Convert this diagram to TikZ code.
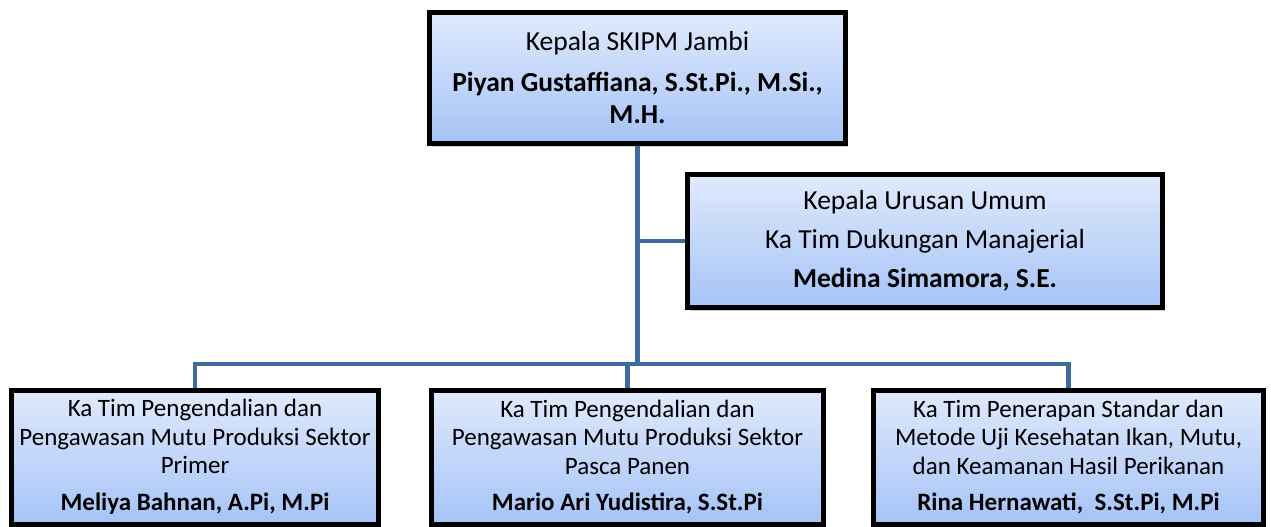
\documentclass[tikz,border=0pt]{standalone}
\usepackage{fontspec}
\setmainfont{Carlito}
\usepackage{tikz}
\usetikzlibrary{shadows}
\definecolor{boxtop}{RGB}{224,234,252}
\definecolor{boxbottom}{RGB}{165,195,247}
\definecolor{linkblue}{RGB}{62,106,158}

\begin{document}
\begin{tikzpicture}[x=1pt, y=-1pt,
    box/.style={draw=black, line width=5pt, rectangle, align=center, inner sep=0pt,
        top color=boxtop, bottom color=boxbottom,
        drop shadow={shadow xshift=2.5pt, shadow yshift=-3pt, fill=black!40, opacity=0.5}},
    bigtext/.style={font=\fontsize{27.5}{32}\selectfont},
    smalltext/.style={font=\fontsize{25}{28.5}\selectfont},
    link/.style={draw=linkblue, line width=4.5pt}]
        \useasboundingbox (0,0) rectangle (1271,527);
        % nodes
        \node[box, bigtext, minimum width=416pt, minimum height=131pt] (kepala) at (637.5,78)
            {Kepala SKIPM Jambi\\[9pt]\textbf{Piyan Gustaffiana, S.St.Pi., M.Si.,}\\\textbf{M.H.}};
        \node[box, bigtext, minimum width=475pt, minimum height=133pt] (urusan) at (925,241)
            {Kepala Urusan Umum\\[7pt]Ka Tim Dukungan Manajerial\\[7pt]\textbf{Medina Simamora, S.E.}};
        \node[box, smalltext, minimum width=367pt, minimum height=134pt] (primer) at (195,457)
            {Ka Tim Pengendalian dan\\Pengawasan Mutu Produksi Sektor\\Primer\\[8pt]\textbf{Meliya Bahnan, A.Pi, M.Pi}};
        \node[box, smalltext, minimum width=392pt, minimum height=134pt] (pasca) at (627.5,457)
            {Ka Tim Pengendalian dan\\Pengawasan Mutu Produksi Sektor\\Pasca Panen\\[8pt]\textbf{Mario Ari Yudistira, S.St.Pi}};
        \node[box, smalltext, minimum width=390pt, minimum height=134pt] (hasil) at (1068.5,457)
            {Ka Tim Penerapan Standar dan\\Metode Uji Kesehatan Ikan, Mutu,\\dan Keamanan Hasil Perikanan\\[8pt]\textbf{Rina Hernawati, \ S.St.Pi, M.Pi}};
        % lines
        \coordinate (bus) at (0,364);
        \draw[link] (kepala.south) -- (kepala.south |- bus);
        \draw[link] (kepala.south |- urusan.west) -- (urusan.west);
        \draw[link] (primer.north) -- (primer.north |- bus) -- (hasil.north |- bus) -- (hasil.north);
        \draw[link] (pasca.north) -- (pasca.north |- bus);
    \end{tikzpicture}
\end{document}
